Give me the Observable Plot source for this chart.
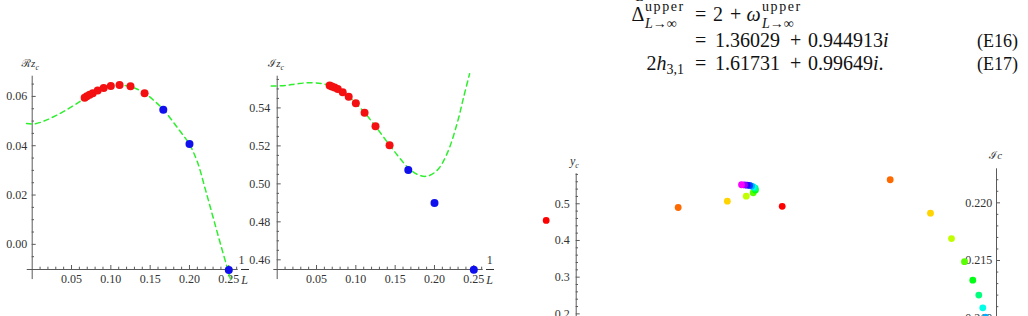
<!DOCTYPE html>
<html><head><meta charset="utf-8">
<script src="https://cdn.jsdelivr.net/npm/d3@7"></script>
<script src="https://cdn.jsdelivr.net/npm/@observablehq/plot@0.6"></script>
<style>
html,body{margin:0;padding:0;background:#fff;}
#page{position:relative;width:1028px;height:316px;overflow:hidden;background:#fff;font-family:"Liberation Serif","Times New Roman",Times,"DejaVu Serif","Noto Serif",serif;color:#111;}
.abs{position:absolute;white-space:nowrap;line-height:1;}
.chart{position:absolute;top:0;}
.c{transform:translate(-50%,-50%);}
</style></head><body><div id="page"></div>
<script>
// ---------- data ----------
// left panels: finite-size estimates vs 1/L
const invL  = [0.0667, 0.0695, 0.0730, 0.0770, 0.0833, 0.0909, 0.1000, 0.1111, 0.1250, 0.1429, 0.1667, 0.2000, 0.2500];
const reZc  = [0.0595, 0.0601, 0.0607, 0.0613, 0.0624, 0.0634, 0.0642, 0.0646, 0.0641, 0.0613, 0.0546, 0.0407, -0.0104];
const imZc  = [0.5518, 0.5513, 0.5507, 0.5500, 0.5483, 0.5459, 0.5424, 0.5375, 0.5303, 0.5204, 0.5073, 0.4899, 0.4548];
const group = ["fit","fit","fit","fit","fit","fit","fit","fit","fit","fit","small","small","small"];
// dashed green fit curves
const reFitX = [-0.0072, 0.002, 0.015, 0.030, 0.045, 0.060, 0.070, 0.080, 0.090, 0.100, 0.110, 0.120, 0.130, 0.143, 0.155, 0.167, 0.184, 0.200, 0.210, 0.220, 0.230, 0.240, 0.2525];
const reFitY = [0.0490, 0.0488, 0.0500, 0.0522, 0.0548, 0.0578, 0.0598, 0.0617, 0.0632, 0.0641, 0.0645, 0.0643, 0.0634, 0.0613, 0.0583, 0.0546, 0.0476, 0.0405, 0.0335, 0.0225, 0.0110, -0.0005, -0.0145];
const imFitX = [-0.0076, 0.0105, 0.0254, 0.0423, 0.0572, 0.0668, 0.0770, 0.0833, 0.0909, 0.1000, 0.1111, 0.1250, 0.1429, 0.155, 0.167, 0.178, 0.190, 0.2033, 0.216, 0.2287, 0.2371, 0.2447];
const imFitY = [0.5515, 0.5518, 0.5527, 0.5533, 0.5528, 0.5518, 0.5501, 0.5483, 0.5459, 0.5424, 0.5375, 0.5303, 0.5204, 0.5140, 0.5083, 0.5050, 0.5040, 0.5071, 0.5159, 0.5317, 0.5457, 0.5580];
// bottom-right panels (rainbow points, index = L order)
const ycX = [-0.0108, 0.0367, 0.0544, 0.0612, 0.0637, 0.0645, 0.0644, 0.0638, 0.0631, 0.0624, 0.0615, 0.0606, 0.0595];
const ycY = [0.4545, 0.4899, 0.5072, 0.5207, 0.5300, 0.5375, 0.5424, 0.5459, 0.5483, 0.5500, 0.5507, 0.5513, 0.5518];
const icX = [-0.02143, -0.01063, -0.0066, -0.0045, -0.0032, -0.00237, -0.00177, -0.00137, -0.0011];
const icY = [0.2197, 0.2220, 0.2191, 0.2169, 0.2149, 0.2133, 0.2120, 0.2109, 0.2101];
// tick labels
const xTicks   = [0.05, 0.10, 0.15, 0.20, 0.25];
const reTicks  = [0.00, 0.02, 0.04, 0.06];
const imTicks  = [0.46, 0.48, 0.50, 0.52, 0.54];
const ycTicks  = [0.2, 0.3, 0.4, 0.5];
const icTicks  = [0.210, 0.215, 0.220];

// ---------- helpers ----------
const AX = "#5a5a5a", LBL = "#333";
const FONT = "'Liberation Serif','Times New Roman',Times,'DejaVu Serif',serif";
const GREEN = "#2eee2e";
const groupColor = {fit: "#f41010", small: "#1010ee"};
const rainbow = i => d3.hsl(i * 0.83 / 12 * 360, 1, 0.5).formatHex();

function axes(o) {
  const kx = (o.xRange[1] - o.xRange[0]) / (o.xDom[1] - o.xDom[0]);
  const ky = (o.yRange[0] - o.yRange[1]) / (o.yDom[1] - o.yDom[0]);
  const m = [];
  const tstyle = {fontFamily: FONT, fontSize: 12, fill: LBL};
  if (o.xAxis) {
    m.push(Plot.ruleY([o.y0], {x1: () => o.xAxis[0], x2: () => o.xAxis[1], stroke: AX, strokeWidth: 1}));
    m.push(Plot.ruleX(o.xMajor, {x: d => d, y1: () => o.y0, y2: () => o.y0 + 4 / ky, stroke: AX}));
    m.push(Plot.ruleX(o.xMinor, {x: d => d, y1: () => o.y0, y2: () => o.y0 + 2.3 / ky, stroke: AX}));
    m.push(Plot.text(o.xMajor, {x: d => d, y: () => o.y0, dy: 9.5, text: o.xFmt, ...tstyle}));
  }
  m.push(Plot.ruleX([o.x0], {y1: () => o.yAxis[0], y2: () => o.yAxis[1], stroke: AX, strokeWidth: 1}));
  m.push(Plot.ruleY(o.yMajor, {y: d => d, x1: () => o.x0, x2: () => o.x0 + 4 / kx, stroke: AX}));
  m.push(Plot.ruleY(o.yMinor, {y: d => d, x1: () => o.x0, x2: () => o.x0 + 2.3 / kx, stroke: AX}));
  m.push(Plot.text(o.yMajor, {x: () => o.x0, y: d => d, dx: o.yDx, textAnchor: "end", text: o.yFmt, ...tstyle}));
  return m;
}

function mount(left, width, plot) {
  const div = document.createElement("div");
  div.className = "chart";
  div.style.left = left + "px";
  div.style.width = width + "px";
  div.appendChild(plot);
  document.getElementById("page").appendChild(div);
}

function mk(o, marks) {
  return Plot.plot({
    width: o.width, height: o.height,
    x: {domain: o.xDom, range: o.xRange, axis: null},
    y: {domain: o.yDom, range: o.yRange, axis: null},
    style: {background: "transparent", overflow: "visible", fontFamily: FONT},
    marks: [...axes(o), ...marks]
  });
}

const pts = invL.map((x, i) => ({x, re: reZc[i], im: imZc[i], g: group[i]}));
const reFit = reFitX.map((x, i) => ({x, y: reFitY[i]}));
const imFit = imFitX.map((x, i) => ({x, y: imFitY[i]}));
const xMinor = d3.range(1, 27).filter(i => i % 5 !== 0).map(i => i / 100);
const f2 = d => d.toFixed(2);

// Panel A: Re z_c
const oA = {width: 270, height: 316, xDom: [0, 0.25], xRange: [31.7, 228.3], yDom: [-0.0102, 0.0682], yRange: [269, 75.7],
  x0: 0, y0: -0.0102, xAxis: [-0.0063, 0.262], yAxis: [-0.0143, 0.0682],
  xMajor: xTicks, xMinor, yMajor: reTicks, yMinor: d3.range(-1, 14).filter(i => i % 4 !== 0).map(i => i * 0.005),
  xFmt: f2, yFmt: f2, yDx: -5};
mount(0, 270, mk(oA, [
  Plot.line(reFit, {x: "x", y: "y", curve: "catmull-rom", stroke: GREEN, strokeWidth: 1.5, strokeDasharray: "5,4"}),
  Plot.dot(pts, {x: "x", y: "re", r: 4, fill: d => groupColor[d.g], stroke: "none"})
]));

// Panel B: Im z_c
const oB = {width: 270, height: 316, xDom: [0, 0.25], xRange: [31.7, 228.3], yDom: [0.4549, 0.5567], yRange: [269, 75.7],
  x0: 0, y0: 0.4549, xAxis: [-0.0043, 0.262], yAxis: [0.4496, 0.5567],
  xMajor: xTicks, xMinor, yMajor: imTicks, yMinor: d3.range(93, 112).filter(i => i % 4 !== 0).map(i => i * 0.005),
  xFmt: f2, yFmt: f2, yDx: -7};
mount(245, 270, mk(oB, [
  Plot.line(imFit, {x: "x", y: "y", curve: "catmull-rom", stroke: GREEN, strokeWidth: 1.5, strokeDasharray: "5,4"}),
  Plot.dot(pts, {x: "x", y: "im", r: 4, fill: d => groupColor[d.g], stroke: "none"})
]));

// Panel C: y_c
const yc = ycX.map((x, i) => ({x, y: ycY[i], c: rainbow(i)}));
const oC = {width: 250, height: 330, xDom: [0, 0.07], xRange: [45.7, 240.2], yDom: [0.18, 0.5817], yRange: [320.7, 173.3],
  x0: 0, yAxis: [0.18, 0.5817], yMajor: ycTicks, yMinor: d3.range(10, 30).filter(i => i % 5 !== 0).map(i => i * 0.02),
  yFmt: d => d.toFixed(1), yDx: -6.4};
mount(530, 250, mk(oC, [
  Plot.dot(yc, {x: "x", y: "y", r: 3.4, fill: "c", stroke: "none"})
]));

// Panel D: Ic
const ic = icX.map((x, i) => ({x, y: icY[i], c: rainbow(i)}));
const oD = {width: 288, height: 340, xDom: [-0.025, 0], xRange: [6, 256], yDom: [0.2085, 0.22295], yRange: [335, 168.3],
  x0: 0, yAxis: [0.2085, 0.22295], yMajor: icTicks, yMinor: d3.range(209, 223).filter(i => i % 5 !== 0).map(i => i * 0.001),
  yFmt: d => d.toFixed(3), yDx: -4.3};
mount(740, 288, mk(oD, [
  Plot.dot(ic, {x: "x", y: "y", r: 3.4, fill: "c", stroke: "none"})
]));

// ---------- text overlays ----------
const page = document.getElementById("page");
function put(html, x, baseline, size, extra = "") {
  const s = document.createElement("span");
  s.className = "abs";
  s.innerHTML = html;
  s.style.left = x + "px";
  s.style.top = (baseline - 0.8375 * size) + "px";
  s.style.fontSize = size + "px";
  if (extra) s.style.cssText += extra;
  page.appendChild(s);
}
function putC(html, cx, cy, size, extra = "") {
  const s = document.createElement("span");
  s.className = "abs c";
  s.innerHTML = html;
  s.style.left = cx + "px";
  s.style.top = cy + "px";
  s.style.fontSize = size + "px";
  if (extra) s.style.cssText += extra;
  page.appendChild(s);
}
function bar(cx, cy, w) {
  const d = document.createElement("div");
  d.style.cssText = `position:absolute;left:${cx - w / 2}px;top:${cy - 0.5}px;width:${w}px;height:1px;background:${LBL};`;
  page.appendChild(d);
}
// axis labels
const al = `color:${LBL};font-style:italic;`;
put("ℛ<i>z</i><sub style='font-size:8px'>c</sub>", 21.5, 67.5, 11, al);
put("ℐ<i>z</i><sub style='font-size:8px'>c</sub>", 268, 67.5, 11, al);
put("<i>y</i><sub style='font-size:8px'>c</sub>", 570, 165, 12, al);
put("ℐ<i>c</i>", 989, 159, 11, al);
// 1/L labels
putC("1", 241.5, 259.5, 12, `color:${LBL};`);
bar(244.5, 269.5, 8);
putC("<i>L</i>", 244.5, 280, 12, `color:${LBL};`);
putC("1", 489.7, 259.5, 12, `color:${LBL};`);
bar(489.7, 269.5, 8);
putC("<i>L</i>", 489.5, 280, 12, `color:${LBL};`);

// equations (top right)
const sup = "letter-spacing:1.6px;";
put("<i>L</i>→∞", 636, 2, 14);
put("Δ", 631.5, 20.5, 20);
put("upper", 645, 12, 14, sup);
put("<i>L</i>→∞", 645, 28.5, 14);
put("=", 695, 20.5, 20);
put("2", 713, 20.5, 20);
put("+", 730, 20.5, 20);
put("<i>ω</i>", 746.5, 20.5, 20);
put("upper", 762, 12, 14, sup);
put("<i>L</i>→∞", 762, 28.5, 14);

put("=", 695, 46.7, 20);
put("1.36029", 715, 46.7, 20);
put("+", 790, 46.7, 20);
put("0.944913<i>i</i>", 808, 46.7, 20);
put("(E16)", 977, 46.7, 18);

put("2<i>h</i>", 646.5, 70, 20);
put("3,1", 666.5, 74.5, 14);
put("=", 695, 70, 20);
put("1.61731", 715, 70, 20);
put("+", 790, 70, 20);
put("0.99649<i>i</i>.", 808, 70, 20);
put("(E17)", 977, 70, 18);
</script></body></html>
